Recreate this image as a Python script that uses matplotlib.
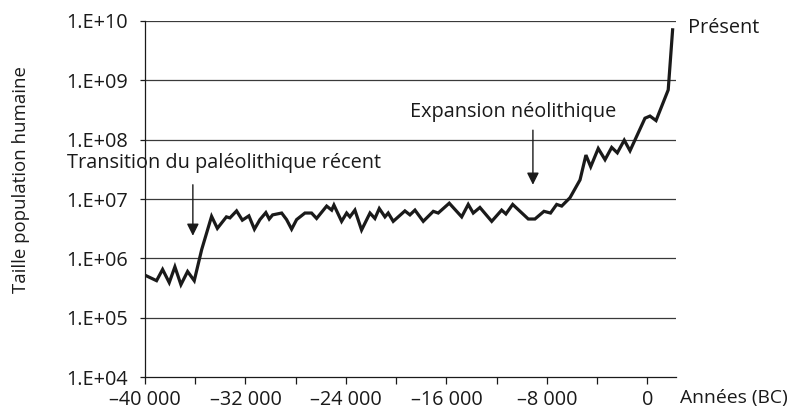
import matplotlib
matplotlib.use("Agg")
import matplotlib.pyplot as plt
from matplotlib.ticker import FixedLocator, FuncFormatter, NullLocator

plt.rcParams["font.family"] = ["Open Sans", "DejaVu Sans"]

# Years (negative = BC) and estimated human population
years = [
    -40000, -39080, -38600, -38070, -37620, -37140, -36610, -36080, -35490, -34700,
    -34240, -33520, -33240, -32710, -32250, -31730, -31290, -30850, -30380, -30110,
    -29840, -29120, -28730, -28330, -27930, -27270, -26740, -26340, -25540, -25140,
    -24960, -24350, -23950, -23690, -23290, -22760, -22090, -21700, -21350, -20900,
    -20640, -20240, -19310, -18910, -18510, -17850, -17050, -16660, -15780, -14790,
    -14270, -13870, -13340, -12400, -11610, -11270, -10730, -9490, -8960, -8240,
    -7720, -7230, -6830, -6170, -5370, -4900, -4520, -3920, -3380, -2850,
    -2400, -1850, -1390, -200, 200, 680, 1650, 2000,
]
population = [
    5.2e5, 4.2e5, 6.5e5, 3.9e5, 7.2e5, 3.6e5, 6.0e5, 4.2e5, 1.4e6, 5.1e6,
    3.2e6, 5.0e6, 4.8e6, 6.3e6, 4.4e6, 5.2e6, 3.1e6, 4.5e6, 5.9e6, 4.6e6,
    5.4e6, 5.8e6, 4.5e6, 3.1e6, 4.5e6, 5.8e6, 5.8e6, 4.7e6, 7.6e6, 6.5e6,
    7.9e6, 4.2e6, 5.8e6, 5.0e6, 6.5e6, 3.0e6, 5.8e6, 4.7e6, 6.9e6, 5.0e6,
    5.8e6, 4.2e6, 6.3e6, 5.4e6, 6.5e6, 4.2e6, 6.2e6, 5.8e6, 8.5e6, 5.0e6,
    8.1e6, 5.8e6, 7.2e6, 4.2e6, 6.5e6, 5.6e6, 8.1e6, 4.6e6, 4.6e6, 6.2e6,
    5.8e6, 8.1e6, 7.6e6, 1.05e7, 2.1e7, 5.5e7, 3.5e7, 7.1e7, 4.6e7, 7.4e7,
    6.0e7, 9.8e7, 6.5e7, 2.3e8, 2.5e8, 2.1e8, 6.9e8, 7.1e9,
]

x_ticks = list(range(-40000, 1, 4000))
x_labelled = [-40000, -32000, -24000, -16000, -8000, 0]
y_ticks = [1e4, 1e5, 1e6, 1e7, 1e8, 1e9, 1e10]
y_labels = ["1.E+04", "1.E+05", "1.E+06", "1.E+07", "1.E+08", "1.E+09", "1.E+10"]

FS = 14.3
INK = "#1a1a1a"

fig = plt.figure(figsize=(7.91, 4.15), dpi=100)
ax = fig.add_axes([145 / 791, 38 / 415, 531 / 791, 356 / 415])

ax.set_yscale("log")
ax.set_xlim(-40000, 2270)
ax.set_ylim(1e4, 1e10)

for yv in y_ticks[1:]:
    ax.axhline(yv, color="#3a3a3a", lw=0.9, zorder=1)

ax.plot(years, population, color=INK, lw=2.3, solid_joinstyle="miter", zorder=3)

for s in ("top", "right"):
    ax.spines[s].set_visible(False)
for s in ("left", "bottom"):
    ax.spines[s].set_color(INK)
    ax.spines[s].set_linewidth(0.9)

ax.yaxis.set_major_locator(FixedLocator(y_ticks))
ax.yaxis.set_minor_locator(NullLocator())
ax.set_yticklabels(y_labels)


def fmt_year(v, pos):
    v = int(round(v))
    if v not in x_labelled:
        return ""
    if v == 0:
        return "0"
    s = f"{abs(v):,}".replace(",", " ")
    return "\u2013" + s


ax.xaxis.set_major_locator(FixedLocator(x_ticks))
ax.xaxis.set_major_formatter(FuncFormatter(fmt_year))
ax.tick_params(axis="y", direction="out", length=3.6, width=0.9, pad=8.5,
               labelsize=FS, colors=INK)
ax.tick_params(axis="x", direction="out", length=5, width=0.9, pad=4.5,
               labelsize=FS, colors=INK)

fig.text(21 / 791, 1 - 180 / 415, "Taille population humaine", rotation=90,
         ha="center", va="center", fontsize=13.4, color=INK)
fig.text(680 / 791, 1 - 398 / 415, "Années (BC)", ha="left", va="center",
         fontsize=13.9, color=INK)

ax.text(3200, 7.6e9, "Présent", ha="left", va="center", fontsize=FS,
        color=INK, clip_on=False)

# Upper Palaeolithic transition
ax.text(-46220, 10 ** 7.61, "Transition du paléolithique récent", ha="left",
        va="center", fontsize=FS, color=INK, clip_on=False)
ax.annotate("", xy=(-36190, 10 ** 6.38), xytext=(-36190, 10 ** 7.24),
            arrowprops=dict(arrowstyle="-|>", color=INK, lw=1.0,
                            mutation_scale=18, shrinkA=0, shrinkB=0))

# Neolithic expansion
ax.text(-18910, 10 ** 8.47, "Expansion néolithique", ha="left", va="center",
        fontsize=FS, color=INK)
ax.annotate("", xy=(-9120, 10 ** 7.24), xytext=(-9120, 10 ** 8.16),
            arrowprops=dict(arrowstyle="-|>", color=INK, lw=1.0,
                            mutation_scale=18, shrinkA=0, shrinkB=0))

fig.savefig("out.png", dpi=100)
